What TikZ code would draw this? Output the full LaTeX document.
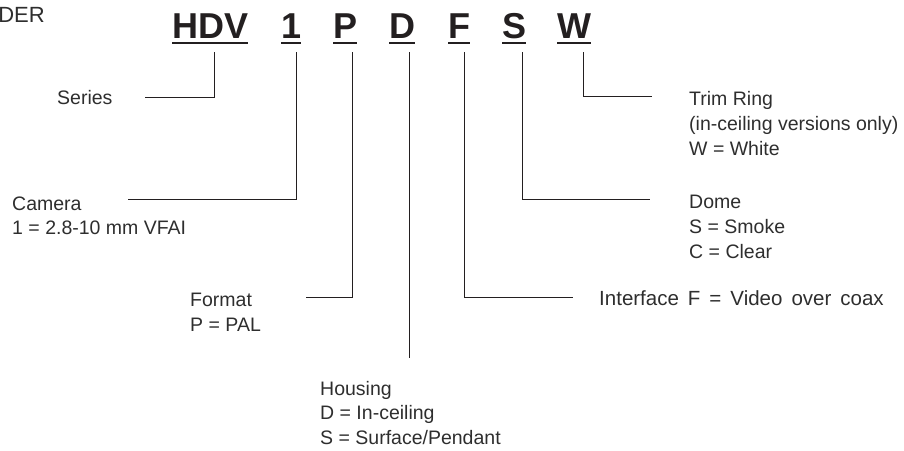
\documentclass[tikz,border=0pt]{standalone}
\usepackage{fontspec}
\setmainfont{Liberation Sans}
\definecolor{ink}{HTML}{231F20}
\definecolor{txt}{HTML}{2E2E2E}
\newcommand\wdsp{\hspace{9pt}}
\begin{document}
\begin{tikzpicture}[x=1pt,y=-1pt,
  code/.style={anchor=base west,inner sep=0pt,font=\fontsize{36}{36}\selectfont\bfseries,text=ink},
  lbl/.style={anchor=base west,inner sep=0pt,align=left,font=\fontsize{19.5}{24.8}\selectfont,text=txt},
  uline/.style={line width=2pt,draw=ink},
  conn/.style={line width=0.9pt,draw=ink}]
\useasboundingbox (0,0) rectangle (904,450);
% header fragment
\node[anchor=base east,inner sep=0pt,font=\fontsize{22}{22}\selectfont,text=txt] (hdr) at (45,22) {DER};
% code letters
\node[code] (cHDV) at (172,38) {HDV};
\node[code] (c1) at (281,38) {1};
\node[code] (cP) at (333,38) {P};
\node[code] (cD) at (389,38) {D};
\node[code] (cF) at (448,38) {F};
\node[code] (cS) at (502,38) {S};
\node[code] (cW) at (557,38) {W};
\foreach \n in {cHDV,c1,cP,cD,cF,cS,cW}{
  \draw[uline] ([yshift=-4.5pt]\n.base west) -- ([yshift=-4.5pt]\n.base west -| \n.east);
}
% connector start points
\coordinate (tHDV) at (214,52);
\coordinate (t1) at (296,52);
\coordinate (tP) at (352,52);
\coordinate (tD) at (409,52);
\coordinate (tF) at (464,52);
\coordinate (tS) at (522,52);
\coordinate (tW) at (583,52);
% connector end points
\coordinate (eSeries) at (145,97);
\coordinate (eCamera) at (128,199);
\coordinate (eFormat) at (306,297);
\coordinate (eHousing) at (409,358);
\coordinate (eInterface) at (573,297);
\coordinate (eDome) at (650,199);
\coordinate (eTrim) at (652,96);
% labels (anchored at the baseline of their last line)
\node[lbl] (Series) at (57,104.5) {Series};
\node[lbl] (Camera) at (12,234.8) {Camera\\1 = 2.8-10 mm VFAI};
\node[lbl] (Format) at (190,331.3) {Format\\P = PAL};
\node[lbl] (Housing) at (320,444.6) {Housing\\D = In-ceiling\\S = Surface/Pendant};
\node[lbl,font=\fontsize{20.5}{24.8}\selectfont] (Interface) at (599,305.5) {Interface\wdsp F\wdsp =\wdsp Video\wdsp over\wdsp coax};
\node[lbl] (Dome) at (689,258.1) {Dome\\S = Smoke\\C = Clear};
\node[lbl] (Trim) at (689,155.1) {Trim Ring\\(in-ceiling versions only)\\W = White};
% connectors
\draw[conn] (tHDV) |- (eSeries);
\draw[conn] (t1) |- (eCamera);
\draw[conn] (tP) |- (eFormat);
\draw[conn] (tD) -- (eHousing);
\draw[conn] (tF) |- (eInterface);
\draw[conn] (tS) |- (eDome);
\draw[conn] (tW) |- (eTrim);
\end{tikzpicture}
\end{document}
